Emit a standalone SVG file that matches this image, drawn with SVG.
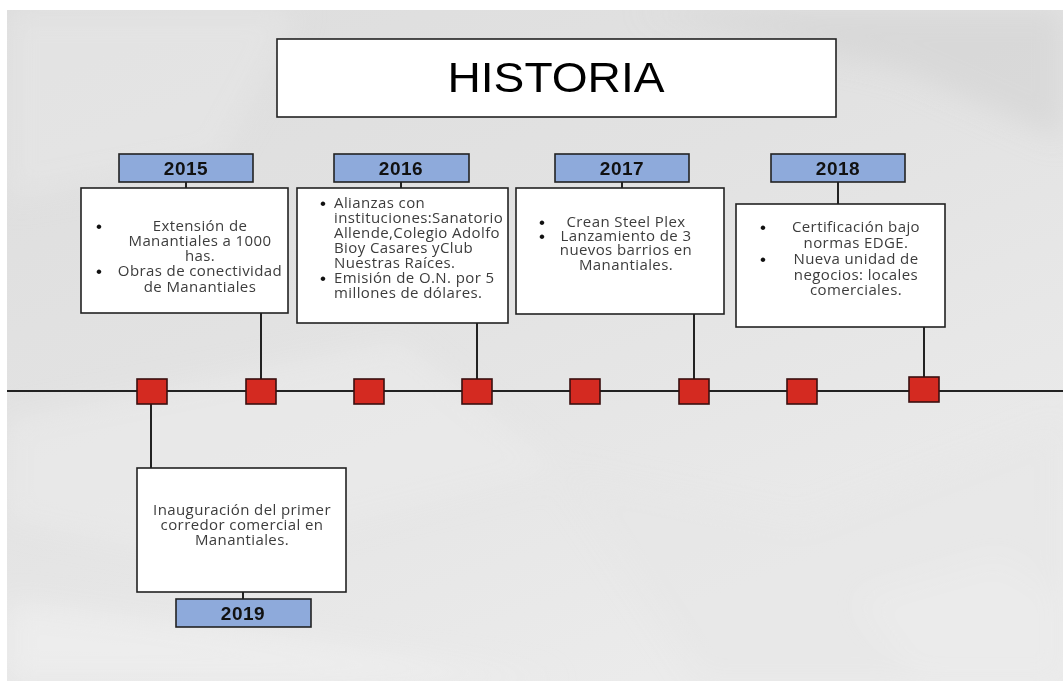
<svg xmlns="http://www.w3.org/2000/svg" width="1063" height="682" viewBox="0 0 1063 682">
<defs>
<linearGradient id="bg" x1="0" y1="0" x2="0.6" y2="1">
<stop offset="0" stop-color="#dddddd"/>
<stop offset="0.45" stop-color="#e2e2e2"/>
<stop offset="1" stop-color="#ebebeb"/>
</linearGradient>
<filter id="soft" x="-10%" y="-10%" width="120%" height="120%">
<feGaussianBlur stdDeviation="14"/>
</filter>
<clipPath id="bgclip"><rect x="7" y="10" width="1056" height="671"/></clipPath>
<style>
.box{fill:#ffffff;stroke:#222;stroke-width:1.6}
.yr{fill:#8eaadb;stroke:#222;stroke-width:1.6}
.yt{font-family:"Liberation Sans",Arial,sans-serif;font-weight:bold;font-size:19px;fill:#111;text-anchor:middle;letter-spacing:0.5px}
.tx{font-family:"Open Sans","Noto Sans",sans-serif;font-size:15px;fill:#3c3c3c;letter-spacing:0.4px}
.c{text-anchor:middle}
.bl{font-family:"Liberation Sans",Arial,sans-serif;font-size:17px;fill:#111;text-anchor:middle}
.ln{stroke:#222;stroke-width:2;fill:none}
.sq{fill:#d42a21;stroke:#3a1010;stroke-width:1.6}
</style>
</defs>
<rect x="0" y="0" width="1063" height="682" fill="#ffffff"/>
<g id="background" clip-path="url(#bgclip)">
<rect x="7" y="10" width="1056" height="671" fill="url(#bg)"/>
<g filter="url(#soft)">
<polygon points="7,10 300,10 220,160 7,200" fill="#e6e6e6" opacity="0.7"/>
<polygon points="640,10 1063,10 1063,140 900,70" fill="#d2d2d2" opacity="0.6"/>
<polygon points="7,420 400,340 560,470 200,560 7,520" fill="#ebebeb" opacity="0.6"/>
<polygon points="560,470 800,520 1063,420 1063,681 700,681" fill="#e6e6e6" opacity="0.6"/>
<polygon points="7,600 300,640 560,681 7,681" fill="#f0f0f0" opacity="0.7"/>
<polygon points="860,600 1000,560 1063,600 1063,681 920,681" fill="#ececec" opacity="0.6"/>
</g>
</g>
<g id="title">
<rect x="277" y="39" width="559" height="78" class="box"/>
<text x="556" y="92" font-family="Liberation Sans,Arial,sans-serif" font-size="42" fill="#000" text-anchor="middle" textLength="217" lengthAdjust="spacingAndGlyphs">HISTORIA</text>
</g>
<g id="connectors">
<line x1="7" y1="391" x2="1063" y2="391" class="ln"/>
<line x1="186" y1="182" x2="186" y2="188" class="ln"/>
<line x1="401" y1="182" x2="401" y2="188" class="ln"/>
<line x1="622" y1="182" x2="622" y2="188" class="ln"/>
<line x1="838" y1="182" x2="838" y2="204" class="ln"/>
<line x1="243" y1="592" x2="243" y2="599" class="ln"/>
<line x1="261" y1="313" x2="261" y2="380" class="ln"/>
<line x1="477" y1="323" x2="477" y2="380" class="ln"/>
<line x1="694" y1="314" x2="694" y2="380" class="ln"/>
<line x1="924" y1="327" x2="924" y2="378" class="ln"/>
<line x1="151" y1="404" x2="151" y2="468" class="ln"/>
</g>
<g id="markers">
<rect x="137" y="379" width="30" height="25" class="sq"/>
<rect x="246" y="379" width="30" height="25" class="sq"/>
<rect x="354" y="379" width="30" height="25" class="sq"/>
<rect x="462" y="379" width="30" height="25" class="sq"/>
<rect x="570" y="379" width="30" height="25" class="sq"/>
<rect x="679" y="379" width="30" height="25" class="sq"/>
<rect x="787" y="379" width="30" height="25" class="sq"/>
<rect x="909" y="377" width="30" height="25" class="sq"/>
</g>
<g id="y2015">
<rect x="119" y="154" width="134" height="28" class="yr"/>
<text x="186" y="175" class="yt">2015</text>
<rect x="81" y="188" width="207" height="125" class="box"/>
<text x="99" y="232" class="bl">•</text>
<text x="99" y="277" class="bl">•</text>
<text class="tx c" x="200" y="231">Extensión de</text>
<text class="tx c" x="200" y="246">Manantiales a  1000</text>
<text class="tx c" x="200" y="261">has.</text>
<text class="tx c" x="200" y="276">Obras de conectividad</text>
<text class="tx c" x="200" y="292">de Manantiales</text>
</g>
<g id="y2016">
<rect x="334" y="154" width="135" height="28" class="yr"/>
<text x="401" y="175" class="yt">2016</text>
<rect x="297" y="188" width="211" height="135" class="box"/>
<text x="323" y="209" class="bl">•</text>
<text x="323" y="284" class="bl">•</text>
<text class="tx" x="334" y="208">Alianzas con</text>
<text class="tx" x="334" y="223">instituciones:Sanatorio</text>
<text class="tx" x="334" y="238">Allende,Colegio Adolfo</text>
<text class="tx" x="334" y="253">Bioy Casares yClub</text>
<text class="tx" x="334" y="268">Nuestras Raíces.</text>
<text class="tx" x="334" y="283">Emisión de O.N. por 5</text>
<text class="tx" x="334" y="298">millones de dólares.</text>
</g>
<g id="y2017">
<rect x="555" y="154" width="134" height="28" class="yr"/>
<text x="622" y="175" class="yt">2017</text>
<rect x="516" y="188" width="208" height="126" class="box"/>
<text x="542" y="228" class="bl">•</text>
<text x="542" y="242" class="bl">•</text>
<text class="tx c" x="626" y="227">Crean Steel Plex</text>
<text class="tx c" x="626" y="241">Lanzamiento de 3</text>
<text class="tx c" x="626" y="255">nuevos barrios en</text>
<text class="tx c" x="626" y="270">Manantiales.</text>
</g>
<g id="y2018">
<rect x="771" y="154" width="134" height="28" class="yr"/>
<text x="838" y="175" class="yt">2018</text>
<rect x="736" y="204" width="209" height="123" class="box"/>
<text x="763" y="233" class="bl">•</text>
<text x="763" y="265" class="bl">•</text>
<text class="tx c" x="856" y="232">Certificación bajo</text>
<text class="tx c" x="856" y="248">normas EDGE.</text>
<text class="tx c" x="856" y="264">Nueva unidad de</text>
<text class="tx c" x="856" y="280">negocios: locales</text>
<text class="tx c" x="856" y="295">comerciales.</text>
</g>
<g id="y2019">
<rect x="137" y="468" width="209" height="124" class="box"/>
<text class="tx c" x="242" y="515">Inauguración del primer</text>
<text class="tx c" x="242" y="530">corredor comercial en</text>
<text class="tx c" x="242" y="545">Manantiales.</text>
<rect x="176" y="599" width="135" height="28" class="yr"/>
<text x="243" y="620" class="yt">2019</text>
</g>
</svg>
